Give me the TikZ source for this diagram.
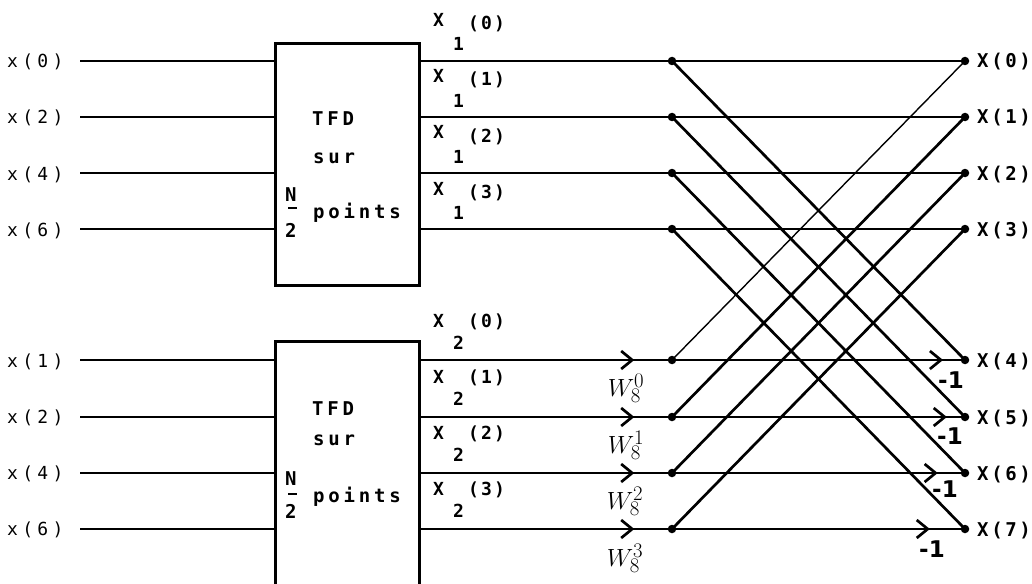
\documentclass[tikz,border=0pt]{standalone}
\usepackage{fontspec}
\newfontfamily\lblfont[LetterSpace=24]{DejaVu Sans Mono}
\newfontfamily\outfont[LetterSpace=14]{DejaVu Sans Mono}
\newfontfamily\midfont[LetterSpace=12]{DejaVu Sans Mono}
\newfontfamily\boxfont[LetterSpace=20]{DejaVu Sans Mono}
\newfontfamily\handfont{DejaVu Sans}
\usetikzlibrary{arrows.meta,decorations.markings}

\begin{document}
\begin{tikzpicture}[x=1pt,y=-1pt,
  wire/.style={line width=2.7pt},
  thinwire/.style={line width=1.4pt},
  dot/.style={circle,fill=black,inner sep=0pt,minimum size=8.5pt},
  inlbl/.style={font=\lblfont\fontsize{18}{18}\selectfont,anchor=base west,inner sep=0pt},
  outlbl/.style={font=\outfont\bfseries\fontsize{19}{19}\selectfont,anchor=base west,inner sep=0pt},
  midlbl/.style={font=\midfont\bfseries\fontsize{18}{18}\selectfont,anchor=base west,inner sep=0pt},
  boxtxt/.style={font=\boxfont\bfseries\fontsize{19}{19}\selectfont,anchor=base west,inner sep=0pt},
  tfdbox/.style={draw,line width=2.7pt,anchor=north west,inner sep=0pt,minimum width=144pt},
  twiddle/.style={font=\fontsize{30}{30}\selectfont,inner sep=0pt},
  minus/.style={font=\handfont\bfseries\fontsize{23}{23}\selectfont,inner sep=0pt},
  arrowat/.style={postaction={decorate},decoration={markings,
    mark=at position #1 with {\arrow{Straight Barb[length=11pt,width=18pt,line width=2.7pt]}}}}
]
\useasboundingbox (0,0) rectangle (1032,583);
\clip (0,0) rectangle (1032,583);

% the two half-size DFT blocks
\node[tfdbox,minimum height=242pt] (B1) at (274,42) {};
\node[tfdbox,minimum height=262pt] (B2) at (274,340) {};

\node[boxtxt] (t1) at (312,125) {TFD};
\node[boxtxt] (s1) at (313,163) {sur};
\node[boxtxt] (p1) at (313,218) {points};
\node[boxtxt] (N1) at (285,201) {N};
\node[boxtxt] (D1) at (285,237) {2};
\draw[line width=2.7pt] (288,208) -- (297,208);

\node[boxtxt] (t2) at (312,415) {TFD};
\node[boxtxt] (s2) at (313,445) {sur};
\node[boxtxt] (p2) at (313,502) {points};
\node[boxtxt] (N2) at (285,485) {N};
\node[boxtxt] (D2) at (285,518) {2};
\draw[line width=2.7pt] (288,494) -- (297,494);

% rows: input start, butterfly node, output node, output label
\foreach \k/\y in {0/61,1/117,2/173,3/229,4/360,5/417,6/473,7/529} {
  \coordinate (s\k) at (80,\y);
  \node[dot] (n\k) at (672,\y) {};
  \node[dot] (o\k) at (965,\y) {};
  \node[outlbl] (X\k) at (977,\y+7) {X(\k)};
}

% input labels and wires
\foreach \k/\i in {0/0,1/2,2/4,3/6} {
  \node[inlbl] (x\k) at (7,{61+56*\k+7}) {x(\i)};
  \draw[wire] (s\k) -- (s\k -| B1.west);
}
\foreach \k/\i in {4/1,5/2,6/4,7/6} {
  \node[inlbl] (x\k) at (7,{360+56.3*(\k-4)+7}) {x(\i)};
  \draw[wire] (s\k) -- (s\k -| B2.west);
}

% block outputs
\foreach \k in {0,1,2,3} {
  \node[midlbl] (Xa\k) at (433,{61+56*\k-34}) {X};
  \node[midlbl] (Sa\k) at (453,{61+56*\k-10}) {1};
  \node[midlbl] (Pa\k) at (468,{61+56*\k-31}) {(\k)};
  \draw[wire] (n\k -| B1.east) -- (n\k.center);
}
\foreach \k in {4,5,6,7} {
  \node[midlbl] (Xb\k) at (433,{360+56.3*(\k-4)-33}) {X};
  \node[midlbl] (Sb\k) at (453,{360+56.3*(\k-4)-11}) {2};
  \node[midlbl] (Pb\k) at (468,{360+56.3*(\k-4)-33}) {(\the\numexpr\k-4\relax)};
  \draw[wire,arrowat=0.85] (n\k -| B2.east) -- (n\k.center);
}

% twiddle factors
\node[twiddle] (w0) at (626,388) {$W_8^0$};
\node[twiddle] (w1) at (626,445) {$W_8^1$};
\node[twiddle] (w2) at (625,501) {$W_8^2$};
\node[twiddle] (w3) at (625,558) {$W_8^3$};

% butterfly
\draw[wire] (n0.center) -- (o0.center);
\draw[wire] (n1.center) -- (o1.center);
\draw[wire] (n2.center) -- (o2.center);
\draw[wire] (n3.center) -- (o3.center);
\draw[wire,arrowat=0.925] (n4.center) -- (o4.center);
\draw[wire,arrowat=0.938] (n5.center) -- (o5.center);
\draw[wire,arrowat=0.907] (n6.center) -- (o6.center);
\draw[wire,arrowat=0.88] (n7.center) -- (o7.center);

\draw[wire] (n0.center) -- (o4.center);
\draw[wire] (n1.center) -- (o5.center);
\draw[wire] (n2.center) -- (o6.center);
\draw[wire] (n3.center) -- (o7.center);
\draw[thinwire] (n4.center) -- (o0.center);
\draw[wire] (n5.center) -- (o1.center);
\draw[wire] (n6.center) -- (o2.center);
\draw[wire] (n7.center) -- (o3.center);

% sign of the lower branches
\node[minus] (m4) at (951,380) {-1};
\node[minus] (m5) at (950,436) {-1};
\node[minus] (m6) at (945,489) {-1};
\node[minus] (m7) at (932,549) {-1};
\end{tikzpicture}
\end{document}
